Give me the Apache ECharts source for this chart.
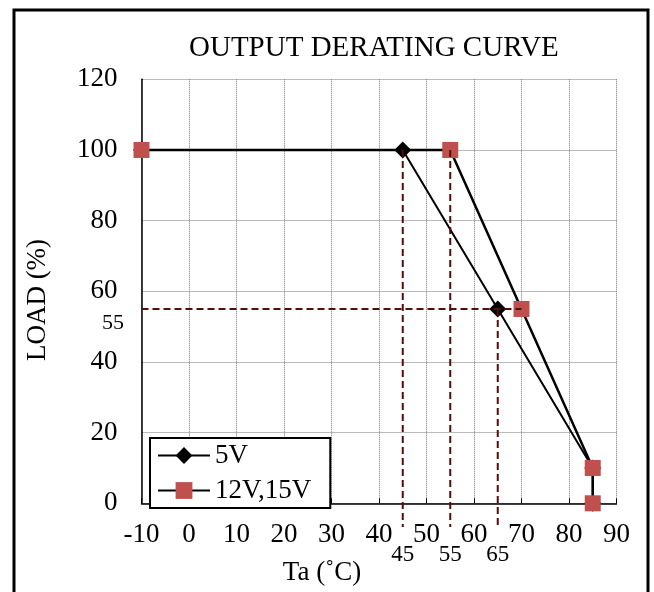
<!DOCTYPE html>
<html>
<head>
<meta charset="UTF-8">
<title>Output Derating Curve</title>
<script src="https://cdn.jsdelivr.net/npm/echarts@6/dist/echarts.min.js"></script>
<style>
html, body { margin: 0; padding: 0; background: #fff; }
#chart { width: 654px; height: 592px; }
</style>
</head>
<body>
<div id="chart"></div>
<script type="text/javascript">
// data
var seriesNames = ['5V', '12V,15V'];
var temp5V = [-10, 45, 65, 85, 85];
var load5V = [100, 100, 55, 10, 0];
var temp12V = [-10, 55, 70, 85, 85];
var load12V = [100, 100, 55, 10, 0];

// dashed guide lines (x pairs, y pairs) and their value labels
var guideXs = [[45, 45], [55, 55], [65, 65], [-10, 70]];
var guideYs = [[100, -6.7], [100, -6.7], [55, -6.7], [55, 55]];
var guideLabels = ['45', '55', '65', '55'];

var xMin = -10, xMax = 90, xStep = 10;
var yMin = 0, yMax = 120, yStep = 20;

var serif = "'Liberation Serif', 'Times New Roman', serif";
var guideColor = '#560d0d';

function pairs(xs, ys) {
	var out = [];
	for (var i = 0; i < xs.length; i++) out.push([xs[i], ys[i]]);
	return out;
}

var myChart = echarts.init(document.getElementById('chart'));

var series = [{
	name: seriesNames[0],
	type: 'line',
	data: pairs(temp5V, load5V),
	symbol: 'diamond',
	symbolSize: 17,
	itemStyle: { color: '#000' },
	lineStyle: { color: '#000', width: 2 },
	z: 3
}, {
	name: seriesNames[1],
	type: 'line',
	data: pairs(temp12V, load12V),
	symbol: 'rect',
	symbolSize: 16,
	itemStyle: { color: '#c0504d' },
	lineStyle: { color: '#000', width: 2.5 },
	z: 4
}];

// guide lines: label sits on the end point lying off the plot
for (var g = 0; g < guideXs.length; g++) {
	var horiz = guideYs[g][0] == guideYs[g][1];
	var pts = pairs(guideXs[g], guideYs[g]);
	var labelPoint = horiz ? 0 : 1;
	var data = [];
	for (var k = 0; k < pts.length; k++) {
		var d = { value: pts[k] };
		if (k == labelPoint) {
			d.label = horiz ? {
				show: true, position: 'left', distance: 17, offset: [0, 14],
				formatter: guideLabels[g], fontSize: 22, fontFamily: serif, color: '#000'
			} : {
				show: true, position: 'bottom', distance: 16,
				formatter: guideLabels[g], fontSize: 23, fontFamily: serif, color: '#000'
			};
		}
		data.push(d);
	}
	series.push({
		name: 'guide' + g,
		type: 'line',
		data: data,
		clip: false,
		silent: true,
		symbol: 'circle',
		symbolSize: 1,
		itemStyle: { color: 'rgba(0,0,0,0)' },
		lineStyle: { color: guideColor, width: 2, type: [7, 4] },
		z: 5
	});
}

var option = {
	animation: false,
	backgroundColor: '#fff',
	title: {
		text: 'OUTPUT DERATING CURVE',
		left: 184,
		top: 29,
		textStyle: { fontFamily: serif, fontSize: 29, fontWeight: 'normal', color: '#000' }
	},
	legend: {
		data: seriesNames,
		orient: 'vertical',
		left: 150,
		top: 438,
		itemWidth: 52,
		itemHeight: 21,
		itemGap: 8,
		padding: [4, 19, 4, 7],
		backgroundColor: '#fff',
		borderColor: '#000',
		borderWidth: 2,
		borderRadius: 0,
		textStyle: { fontFamily: serif, fontSize: 27, color: '#000' },
		z: 10
	},
	grid: {
		left: 141.5,
		right: 37.5,
		top: 79.3,
		bottom: 88.7
	},
	xAxis: {
		type: 'value',
		min: xMin,
		max: xMax,
		interval: xStep,
		axisLine: { show: true, onZero: false, lineStyle: { color: '#000', width: 1.5 } },
		axisTick: { show: true, inside: true, length: 5, lineStyle: { color: '#000' } },
		axisLabel: { margin: 18, fontFamily: serif, fontSize: 27, color: '#000' },
		splitLine: { show: true, lineStyle: { color: '#777', width: 1, type: 'dotted' } }
	},
	yAxis: {
		type: 'value',
		min: yMin,
		max: yMax,
		interval: yStep,
		axisLine: { show: true, onZero: false, lineStyle: { color: '#000', width: 1.5 } },
		axisTick: { show: false },
		axisLabel: { margin: 24, fontFamily: serif, fontSize: 27, color: '#000' },
		splitLine: { show: true, lineStyle: { color: '#777', width: 1, type: 'dotted' } }
	},
	graphic: [{
		type: 'rect',
		shape: { x: 14, y: 10, width: 634, height: 610 },
		style: { fill: null, stroke: '#000', lineWidth: 3 },
		silent: true
	}, {
		type: 'text',
		x: 38,
		y: 300,
		rotation: Math.PI / 2,
		style: { text: 'LOAD (%)', font: '27px ' + serif, fill: '#000', align: 'center', verticalAlign: 'middle' }
	}, {
		type: 'text',
		x: 322,
		y: 573,
		style: { text: 'Ta (˚C)', font: '27px ' + serif, fill: '#000', align: 'center', verticalAlign: 'middle' }
	}],
	series: series
};
myChart.setOption(option);
</script>
</body>
</html>
